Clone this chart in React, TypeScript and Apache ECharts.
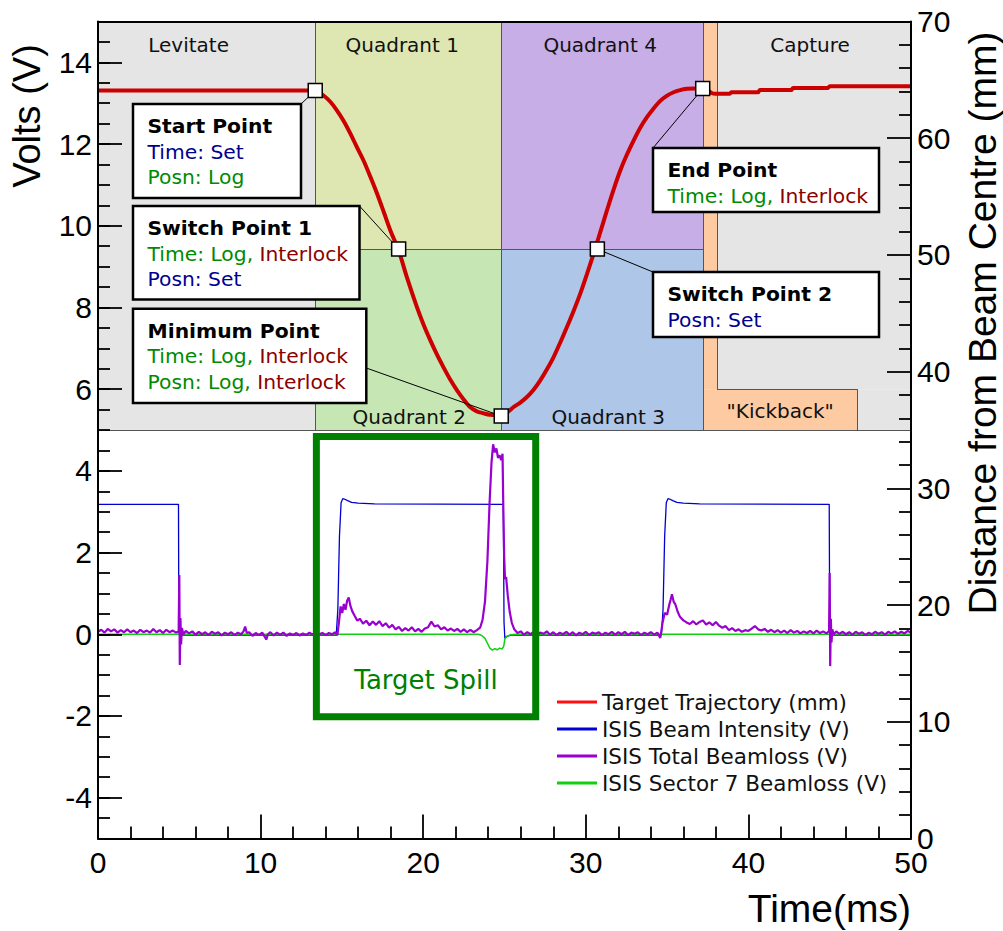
import React, { useEffect, useRef } from "react";
import * as echarts from "echarts";

// ---------------- axes ----------------
const timeRangeMs = [0, 50];
const voltRange = [-5, 15];
const voltTickValues = [-4, -2, 0, 2, 4, 6, 8, 10, 12, 14];
const distanceRangeMm = [0, 70];

// ---------------- target trajectory (right axis, mm) ----------------
const targetTrajectory: number[][] = [
  [0, 64.08], [13.06, 64.08], [13.36, 64.05], [13.87, 63.66], [14.3, 63.1], [14.7, 62.37],
  [15.1, 61.5], [15.52, 60.4], [15.9, 59.3], [16.33, 58.09], [16.75, 56.7], [17.16, 55.27],
  [17.57, 53.7], [17.98, 52.1], [18.49, 50.39], [19.0, 48.07], [19.62, 45.5], [20.03, 44.0],
  [20.44, 42.68], [20.85, 41.45], [21.25, 40.37], [21.67, 39.3], [22.08, 38.4], [22.5, 37.6],
  [22.9, 36.94], [23.3, 36.6], [23.71, 36.43], [24.1, 36.3], [24.54, 36.26], [24.8, 36.28],
  [25.15, 36.5], [25.56, 36.97], [25.97, 37.35], [26.38, 37.83], [26.79, 38.45], [27.2, 39.25],
  [27.61, 40.2], [28.02, 41.25], [28.43, 42.5], [28.84, 43.82], [29.25, 45.2], [29.66, 46.68],
  [30.07, 48.35], [30.48, 50.1], [30.89, 51.95], [31.3, 53.81], [31.71, 55.6], [32.12, 57.23],
  [32.53, 58.6], [32.94, 59.8], [33.35, 60.9], [33.76, 61.8], [34.17, 62.55], [34.58, 63.2],
  [35.0, 63.65], [35.4, 63.94], [35.8, 64.12], [36.22, 64.23], [36.63, 64.27], [37.04, 64.22],
  [37.4, 64.2], [37.7, 63.9], [38.0, 63.8], [38.85, 63.8], [38.95, 63.94], [40.6, 63.94],
  [40.7, 64.14], [42.65, 64.14], [42.75, 64.31], [44.9, 64.31], [45.0, 64.45], [50, 64.45],
];

// control points on the trajectory (ms, mm)
const pointNames = ["Start Point", "Switch Point 1", "Minimum Point", "Switch Point 2", "End Point"];
const pointTimeMs = [13.36, 18.49, 24.8, 30.71, 37.19];
const pointDistanceMm = [64.08, 50.5, 36.2, 50.5, 64.25];

// ---------------- ISIS signals (left axis, V) ----------------
const beamIntensity: number[][] = [
  [0, 3.18], [4.95, 3.18], [4.97, 0.4], [5.0, -0.02], [14.65, -0.02], [14.75, 0.6], [14.85, 2.4],
  [14.95, 3.22], [15.05, 3.32], [15.15, 3.31], [15.35, 3.27], [15.6, 3.23], [16.0, 3.21],
  [17.0, 3.19], [24.93, 3.18], [24.97, 0.3], [25.02, -0.1], [25.15, -0.05], [25.4, -0.02],
  [34.65, -0.02], [34.75, 0.6], [34.85, 2.4], [34.95, 3.22], [35.05, 3.32], [35.15, 3.31],
  [35.35, 3.27], [35.6, 3.23], [36.0, 3.21], [37.0, 3.19], [44.97, 3.18], [45.0, 0.2],
  [45.03, -0.02], [50, -0.02],
];

const sector7Loss: number[][] = [
  [0, 0.0], [23.4, 0.0], [23.6, -0.03], [23.8, -0.1], [23.95, -0.22], [24.1, -0.34], [24.25, -0.39],
  [24.4, -0.35], [24.55, -0.38], [24.7, -0.34], [24.85, -0.36], [24.95, -0.3], [25.02, -0.12],
  [25.15, -0.05], [25.4, -0.01], [25.7, 0], [50, 0],
];

const totalLoss: number[][] = [
  [0.0, 0.06], [0.2, 0.11], [0.4, 0.04], [0.6, 0.13], [0.8, 0.07], [1.0, 0.12], [1.2, 0.04], [1.4, 0.1],
  [1.6, 0.05], [1.8, 0.12], [2.0, 0.05], [2.2, 0.09], [2.4, 0.03], [2.6, 0.11], [2.8, 0.05], [3.0, 0.09],
  [3.2, 0.04], [3.4, 0.13], [3.6, 0.05], [3.8, 0.1], [4.0, 0.03], [4.2, 0.11], [4.4, 0.05], [4.6, 0.09],
  [4.8, 0.04], [4.96, 0.07], [5.0, 1.45], [5.03, -0.75], [5.07, 0.4], [5.11, -0.25], [5.16, 0.15],
  [5.25, 0.0], [5.4, 0.08], [5.6, 0.02], [5.8, 0.07], [6.0, -0.01], [6.2, 0.06], [6.4, 0.0], [6.6, 0.05],
  [6.8, -0.02], [7.0, 0.06], [7.2, 0.01], [7.4, 0.05], [7.6, -0.03], [7.8, 0.04], [8.0, 0.0], [8.2, 0.05],
  [8.4, -0.02], [8.6, 0.04], [8.8, 0.0], [8.95, 0.07], [9.05, 0.19], [9.15, 0.03], [9.3, 0.05],
  [9.5, -0.04], [9.7, 0.03], [9.9, -0.02], [10.1, 0.04], [10.25, -0.06], [10.35, -0.13], [10.45, 0.0],
  [10.6, 0.05], [10.8, -0.03], [11.0, 0.04], [11.2, -0.01], [11.4, 0.04], [11.6, -0.04], [11.8, 0.02],
  [12.0, -0.02], [12.2, 0.03], [12.4, -0.03], [12.6, 0.02], [12.8, -0.02], [13.0, 0.04], [13.2, -0.01],
  [13.4, 0.08], [13.6, 0.0], [13.8, 0.03], [14.0, -0.02], [14.2, 0.03], [14.4, 0.0], [14.6, 0.05],
  [14.72, -0.03], [14.82, 0.3], [14.92, 0.68], [15.02, 0.52], [15.12, 0.74], [15.22, 0.6], [15.32, 0.82],
  [15.42, 0.9], [15.52, 0.7], [15.64, 0.56], [15.8, 0.44], [15.95, 0.33], [16.1, 0.38], [16.3, 0.26],
  [16.5, 0.33], [16.7, 0.22], [16.9, 0.31], [17.1, 0.23], [17.3, 0.32], [17.5, 0.2], [17.7, 0.27],
  [17.9, 0.16], [18.1, 0.23], [18.3, 0.12], [18.5, 0.18], [18.7, 0.08], [18.9, 0.15], [19.1, 0.09],
  [19.3, 0.17], [19.5, 0.07], [19.7, 0.13], [19.9, 0.06], [20.1, 0.14], [20.3, 0.17], [20.5, 0.31],
  [20.7, 0.19], [20.9, 0.22], [21.1, 0.12], [21.3, 0.17], [21.5, 0.09], [21.7, 0.14], [21.9, 0.08],
  [22.1, 0.13], [22.3, 0.06], [22.5, 0.12], [22.7, 0.05], [22.9, 0.11], [23.1, 0.05], [23.3, 0.1],
  [23.5, 0.16], [23.65, 0.35], [23.8, 0.8], [23.95, 1.8], [24.08, 3.2], [24.2, 4.2], [24.3, 4.65],
  [24.4, 4.45], [24.5, 4.55], [24.6, 4.32], [24.7, 4.38], [24.8, 4.26], [24.88, 4.42], [24.93, 3.0],
  [24.98, 1.9], [25.03, 1.35], [25.1, 1.4], [25.2, 0.95], [25.32, 0.55], [25.45, 0.28], [25.6, 0.12],
  [25.8, 0.03], [26.0, 0.07], [26.2, -0.01], [26.4, 0.05], [26.6, 0.0], [26.8, 0.06], [27.0, -0.02],
  [27.2, 0.04], [27.4, 0.01], [27.6, 0.07], [27.8, -0.01], [28.0, 0.05], [28.2, -0.02], [28.4, 0.04],
  [28.6, 0.0], [28.8, 0.06], [29.0, -0.01], [29.2, 0.05], [29.4, -0.03], [29.6, 0.04], [29.8, 0.0],
  [30.0, 0.06], [30.2, -0.02], [30.4, 0.04], [30.6, 0.01], [30.8, 0.05], [31.0, -0.02], [31.2, 0.04],
  [31.4, 0.0], [31.6, 0.06], [31.8, -0.01], [32.0, 0.05], [32.2, 0.0], [32.4, 0.06], [32.6, -0.02],
  [32.8, 0.04], [33.0, 0.01], [33.2, 0.05], [33.4, -0.02], [33.6, 0.04], [33.8, 0.0], [34.0, 0.05],
  [34.2, -0.01], [34.4, 0.04], [34.58, -0.09], [34.72, 0.28], [34.85, 0.52], [35.0, 0.48], [35.12, 0.7],
  [35.22, 0.85], [35.3, 0.98], [35.4, 0.8], [35.5, 0.74], [35.65, 0.55], [35.8, 0.42], [36.0, 0.34],
  [36.2, 0.29], [36.4, 0.25], [36.6, 0.32], [36.8, 0.24], [37.0, 0.3], [37.2, 0.34], [37.4, 0.24],
  [37.6, 0.29], [37.8, 0.22], [38.0, 0.3], [38.2, 0.21], [38.4, 0.16], [38.6, 0.2], [38.8, 0.1],
  [39.0, 0.15], [39.2, 0.08], [39.4, 0.12], [39.6, 0.06], [39.8, 0.1], [40.0, 0.08], [40.2, 0.14],
  [40.4, 0.2], [40.6, 0.12], [40.8, 0.09], [41.0, 0.13], [41.2, 0.06], [41.4, 0.11], [41.6, 0.05],
  [41.8, 0.1], [42.0, 0.04], [42.2, 0.09], [42.4, 0.03], [42.6, 0.1], [42.8, 0.04], [43.0, 0.08],
  [43.2, 0.02], [43.4, 0.07], [43.6, 0.03], [43.8, 0.08], [44.0, 0.02], [44.2, 0.09], [44.4, 0.03],
  [44.6, 0.07], [44.8, 0.02], [44.96, 0.08], [45.0, 1.5], [45.03, -0.78], [45.07, 0.38], [45.11, -0.2],
  [45.16, 0.12], [45.25, 0.0], [45.4, 0.07], [45.6, 0.01], [45.8, 0.06], [46.0, 0.0], [46.2, 0.05],
  [46.4, -0.01], [46.6, 0.06], [46.8, 0.01], [47.0, 0.05], [47.2, -0.02], [47.4, 0.04], [47.6, 0.0],
  [47.8, 0.06], [48.0, 0.01], [48.2, 0.05], [48.4, -0.01], [48.6, 0.06], [48.8, 0.02], [49.0, 0.07],
  [49.2, 0.01], [49.4, 0.06], [49.6, 0.02], [49.8, 0.08], [50.0, 0.04],
];

// ---------------- phase regions (left axis, V) ----------------
const levitateEndMs = 13.36;
const quadrantSplitMs = 24.8;
const quadrantEndMs = 37.21;
const kickbackStripEndMs = 38.07;
const kickbackEndMs = 46.7;
const regionBottomV = 5;
const regionTopV = 15;
const switchLevelV = 9.43;
const kickbackLevelV = 6;

const regionNames = ["Levitate", "Quadrant 1", "Quadrant 2", "Quadrant 4", "Quadrant 3", "", "\"Kickback\"", "Capture", ""];
const regionStartMs = [0, levitateEndMs, levitateEndMs, quadrantSplitMs, quadrantSplitMs, quadrantEndMs, quadrantEndMs, kickbackStripEndMs, kickbackEndMs];
const regionEndMs = [levitateEndMs, quadrantSplitMs, quadrantSplitMs, quadrantEndMs, quadrantEndMs, kickbackStripEndMs, kickbackEndMs, 50, 50];
const regionLowV = [regionBottomV, switchLevelV, regionBottomV, switchLevelV, regionBottomV, kickbackLevelV, regionBottomV, kickbackLevelV, regionBottomV];
const regionHighV = [regionTopV, regionTopV, switchLevelV, regionTopV, switchLevelV, regionTopV, kickbackLevelV, regionTopV, kickbackLevelV];

// target spill window
const spillStartMs = 13.43;
const spillEndMs = 26.92;
const spillLowV = -2.02;
const spillHighV = 4.84;

// annotation texts
const annotationLines: [string, string][][][] = [
  [[["Time: Set", "set"]], [["Posn: Log", "log"]]],
  [[["Time: Log, ", "log"], ["Interlock", "interlock"]], [["Posn: Set", "set"]]],
  [[["Time: Log, ", "log"], ["Interlock", "interlock"]], [["Posn: Log, ", "log"], ["Interlock", "interlock"]]],
  [[["Posn: Set", "set"]]],
  [[["Time: Log, ", "log"], ["Interlock", "interlock"]]],
];

const legendNames = ["Target Trajectory (mm)", "ISIS Beam Intensity (V)", "ISIS Total Beamloss (V)", "ISIS Sector 7 Beamloss (V)"];

// ---------------- styles ----------------
const SANS = "'Liberation Sans', Arial, Helvetica, sans-serif";
const DEJA = "'DejaVu Sans', sans-serif";
const regionColors = ["#e5e5e5", "#dee7b1", "#c6e7b4", "#c7aee6", "#aec6e7", "#fdcaa2", "#fdcaa2", "#e5e5e5", "#e5e5e5"];
const regionLabelPos: any = {
  "Levitate": { position: "insideTop", offset: [-18, 0] },
  "Quadrant 1": { position: "insideTop", offset: [-6, 0] },
  "Quadrant 2": { position: "insideBottom", offset: [1, 0] },
  "Quadrant 4": { position: "insideTop", offset: [-2, 0] },
  "Quadrant 3": { position: "insideBottom", offset: [6, 0] },
  "\"Kickback\"": { position: "inside", offset: [0, 1] },
  "Capture": { position: "insideTop", offset: [-4, 0] },
};
const statusColors: any = { set: "#000090", log: "#008a00", interlock: "#8b0000" };
const boxLayout = [
  { x: 133, y: 104, w: 168, h: 94, ax: 301, ay: 104 },
  { x: 133, y: 206, w: 226.5, h: 93.5, ax: 359.5, ay: 206 },
  { x: 133, y: 308.7, w: 233.3, h: 94.3, ax: 366.3, ay: 368 },
  { x: 653, y: 272, w: 226, h: 65, ax: 653, ay: 272 },
  { x: 653, y: 148, w: 226, h: 64, ax: 653, ay: 148 },
];

export default function App() {
  const ref = useRef<HTMLDivElement>(null);
  useEffect(() => {
    if (!ref.current) return;
    const chart = echarts.init(ref.current, null, { renderer: "svg" });
    const tickLine = { color: "#000", width: 1.8 };
    const axisLine = { show: true, onZero: false, lineStyle: { color: "#000", width: 2 } };

    const areaData = regionNames.map((name, i) => {
      const lp = regionLabelPos[name];
      return [
        {
          name,
          coord: [regionStartMs[i], regionHighV[i]],
          itemStyle: { color: regionColors[i], borderWidth: 0 },
          label: name
            ? { show: true, position: lp.position, offset: lp.offset, distance: lp.position === "inside" ? 0 : (lp.position === "insideTop" ? 13 : 3), color: "#111", fontSize: 20, fontFamily: DEJA }
            : { show: false },
        },
        { coord: [regionEndMs[i], regionLowV[i]] },
      ];
    });

    const boundaries = [
      [[levitateEndMs, regionBottomV], [levitateEndMs, regionTopV]],
      [[quadrantSplitMs, regionBottomV], [quadrantSplitMs, regionTopV]],
      [[quadrantEndMs, regionBottomV], [quadrantEndMs, regionTopV]],
      [[kickbackStripEndMs, kickbackLevelV], [kickbackStripEndMs, regionTopV]],
      [[kickbackEndMs, regionBottomV], [kickbackEndMs, kickbackLevelV]],
      [[levitateEndMs, switchLevelV], [quadrantEndMs, switchLevelV]],
      [[kickbackStripEndMs, kickbackLevelV], [kickbackEndMs, kickbackLevelV]],
      [[timeRangeMs[0], regionBottomV], [timeRangeMs[1], regionBottomV]],
    ].map((seg) => [{ coord: seg[0] }, { coord: seg[1] }]);

    const option: any = {
      animation: false,
      textStyle: { fontFamily: SANS },
      grid: { left: 98, right: 92, top: 21.5, bottom: 92.5, show: false },
      legend: {
        orient: "vertical",
        left: 557,
        top: 691,
        padding: 0,
        itemGap: 5,
        itemWidth: 40,
        itemHeight: 3,
        icon: "rect",
        selectedMode: false,
        textStyle: { fontFamily: DEJA, fontSize: 21.5, color: "#111" },
        data: [
          { name: legendNames[0], itemStyle: { color: "#ff1010" } },
          { name: legendNames[1], itemStyle: { color: "#0000d0" } },
          { name: legendNames[2], itemStyle: { color: "#9a00d0" } },
          { name: legendNames[3], itemStyle: { color: "#10d010" } },
        ],
      },
      xAxis: [
        {
          type: "value", min: timeRangeMs[0], max: timeRangeMs[1], interval: 10, position: "bottom", z: 20,
          axisLine,
          axisTick: { show: true, inside: true, length: 24, lineStyle: tickLine },
          minorTick: { show: true, splitNumber: 5, length: 12, lineStyle: tickLine },
          axisLabel: { fontSize: 30, fontFamily: SANS, color: "#000", margin: 9 },
          splitLine: { show: false }, minorSplitLine: { show: false },
        },
        {
          type: "value", min: timeRangeMs[0], max: timeRangeMs[1], position: "top", z: 20,
          axisLine, axisTick: { show: false }, axisLabel: { show: false }, splitLine: { show: false },
        },
      ],
      yAxis: [
        {
          type: "value", min: voltRange[0], max: voltRange[1], interval: 1, position: "left", z: 20,
          axisLine,
          axisTick: { show: true, inside: true, length: 24, customValues: voltTickValues, lineStyle: tickLine },
          axisLabel: { customValues: voltTickValues, fontSize: 30, fontFamily: SANS, color: "#000", margin: 6 },
          splitLine: { show: false },
        },
        {
          type: "value", min: voltRange[0], max: voltRange[1], interval: 0.5, position: "left", z: 20,
          axisLine: { show: false, onZero: false },
          axisTick: { show: true, inside: true, length: 12, lineStyle: tickLine },
          axisLabel: { show: false }, splitLine: { show: false },
        },
        {
          type: "value", min: distanceRangeMm[0], max: distanceRangeMm[1], interval: 10, position: "right", z: 20,
          axisLine,
          axisTick: { show: true, inside: true, length: 24, lineStyle: tickLine },
          minorTick: { show: true, splitNumber: 5, length: 12, lineStyle: tickLine },
          axisLabel: { fontSize: 30, fontFamily: SANS, color: "#000", margin: 6 },
          splitLine: { show: false }, minorSplitLine: { show: false },
        },
      ],
      series: [
        {
          name: "phases", type: "line", xAxisIndex: 0, yAxisIndex: 0, data: [], silent: true, z: 1,
          markArea: { silent: true, z: 1, emphasis: { disabled: true }, data: areaData },
          markLine: {
            silent: true, z: 1.5, symbol: ["none", "none"], label: { show: false }, emphasis: { disabled: true },
            lineStyle: { color: "#555", width: 1, type: "solid" }, data: boundaries,
          },
        },
        {
          name: legendNames[0], type: "line", xAxisIndex: 0, yAxisIndex: 2, data: targetTrajectory,
          showSymbol: false, smooth: 0.3, z: 4, silent: true,
          lineStyle: { color: "#cc0000", width: 4 }, itemStyle: { color: "#cc0000" },
        },
        {
          name: legendNames[1], type: "line", xAxisIndex: 0, yAxisIndex: 0, data: beamIntensity,
          showSymbol: false, z: 3, silent: true,
          lineStyle: { color: "#0000d0", width: 1.3 }, itemStyle: { color: "#0000d0" },
        },
        {
          name: legendNames[3], type: "line", xAxisIndex: 0, yAxisIndex: 0, data: sector7Loss,
          showSymbol: false, z: 3, silent: true,
          lineStyle: { color: "#10d010", width: 1.5 }, itemStyle: { color: "#10d010" },
        },
        {
          name: legendNames[2], type: "line", xAxisIndex: 0, yAxisIndex: 0, data: totalLoss,
          showSymbol: false, z: 3, silent: true,
          lineStyle: { color: "#9a00d0", width: 2.2 }, itemStyle: { color: "#9a00d0" },
        },
        {
          name: "spill", type: "line", xAxisIndex: 0, yAxisIndex: 0, data: [], silent: true, z: 10,
          markArea: {
            silent: true, z: 10, emphasis: { disabled: true },
            data: [[
              {
                name: "Target Spill", coord: [spillStartMs, spillHighV],
                itemStyle: { color: "rgba(0,0,0,0)", borderColor: "#008000", borderWidth: 7 },
                label: { show: true, position: "insideBottom", distance: 27, color: "#008000", fontSize: 26, fontFamily: DEJA },
              },
              { coord: [spillEndMs, spillLowV] },
            ]],
          },
        },
        {
          name: "points", type: "scatter", xAxisIndex: 0, yAxisIndex: 2, silent: true, z: 60,
          data: pointTimeMs.map((t, i) => [t, pointDistanceMm[i]]),
          symbol: "rect", symbolSize: 14,
          itemStyle: { color: "#fff", borderColor: "#000", borderWidth: 1.5, opacity: 1 },
        },
      ],
    };
    chart.setOption(option);

    const rich: any = {
      b: { fontFamily: DEJA, fontWeight: "bold", fontSize: 20.3, lineHeight: 25.5, fill: "#000" },
    };
    Object.keys(statusColors).forEach((k) => {
      rich[k] = { fontFamily: DEJA, fontSize: 20.3, lineHeight: 25.5, fill: statusColors[k] };
    });

    const graphics: any[] = [];
    pointNames.forEach((title, i) => {
      const b = boxLayout[i];
      const p = chart.convertToPixel({ seriesIndex: 6 }, [pointTimeMs[i], pointDistanceMm[i]]) as number[];
      graphics.push({
        type: "line", z: 50, silent: true,
        shape: { x1: b.ax, y1: b.ay, x2: p[0], y2: p[1] },
        style: { stroke: "#000", lineWidth: 1 },
      });
      const text = `{b|${title}}` + annotationLines[i].map((line) => "\n" + line.map(([s, k]) => `{${k}|${s}}`).join("")).join("");
      graphics.push({
        type: "rect", z: 51, silent: true,
        shape: { x: b.x, y: b.y, width: b.w, height: b.h },
        style: { fill: "#fff", stroke: "#000", lineWidth: 2.5 },
      });
      graphics.push({
        type: "text", z: 52, silent: true, x: b.x + 14.5, y: b.y + 9.3,
        style: { text, rich, align: "left", verticalAlign: "top", textAlign: "left", textVerticalAlign: "top" },
      });
    });
    graphics.push({
      type: "text", z: 52, silent: true, x: 27, y: 116, rotation: Math.PI / 2,
      style: { text: "Volts (V)", font: `38px ${SANS}`, fill: "#000", align: "center", verticalAlign: "middle", textAlign: "center", textVerticalAlign: "middle" },
    });
    graphics.push({
      type: "text", z: 52, silent: true, x: 982, y: 323, rotation: Math.PI / 2,
      style: { text: "Distance from Beam Centre (mm)", font: `39px ${SANS}`, fill: "#000", align: "center", verticalAlign: "middle", textAlign: "center", textVerticalAlign: "middle" },
    });
    graphics.push({
      type: "text", z: 52, silent: true, x: 911, y: 908,
      style: { text: "Time(ms)", font: `39px ${SANS}`, fill: "#000", align: "right", verticalAlign: "middle", textAlign: "right", textVerticalAlign: "middle" },
    });
    chart.setOption({ graphic: graphics });

    return () => chart.dispose();
  }, []);
  return <div ref={ref} style={{ position: "absolute", left: 0, top: 0, width: 1003, height: 931, background: "#fff" }} />;
}
